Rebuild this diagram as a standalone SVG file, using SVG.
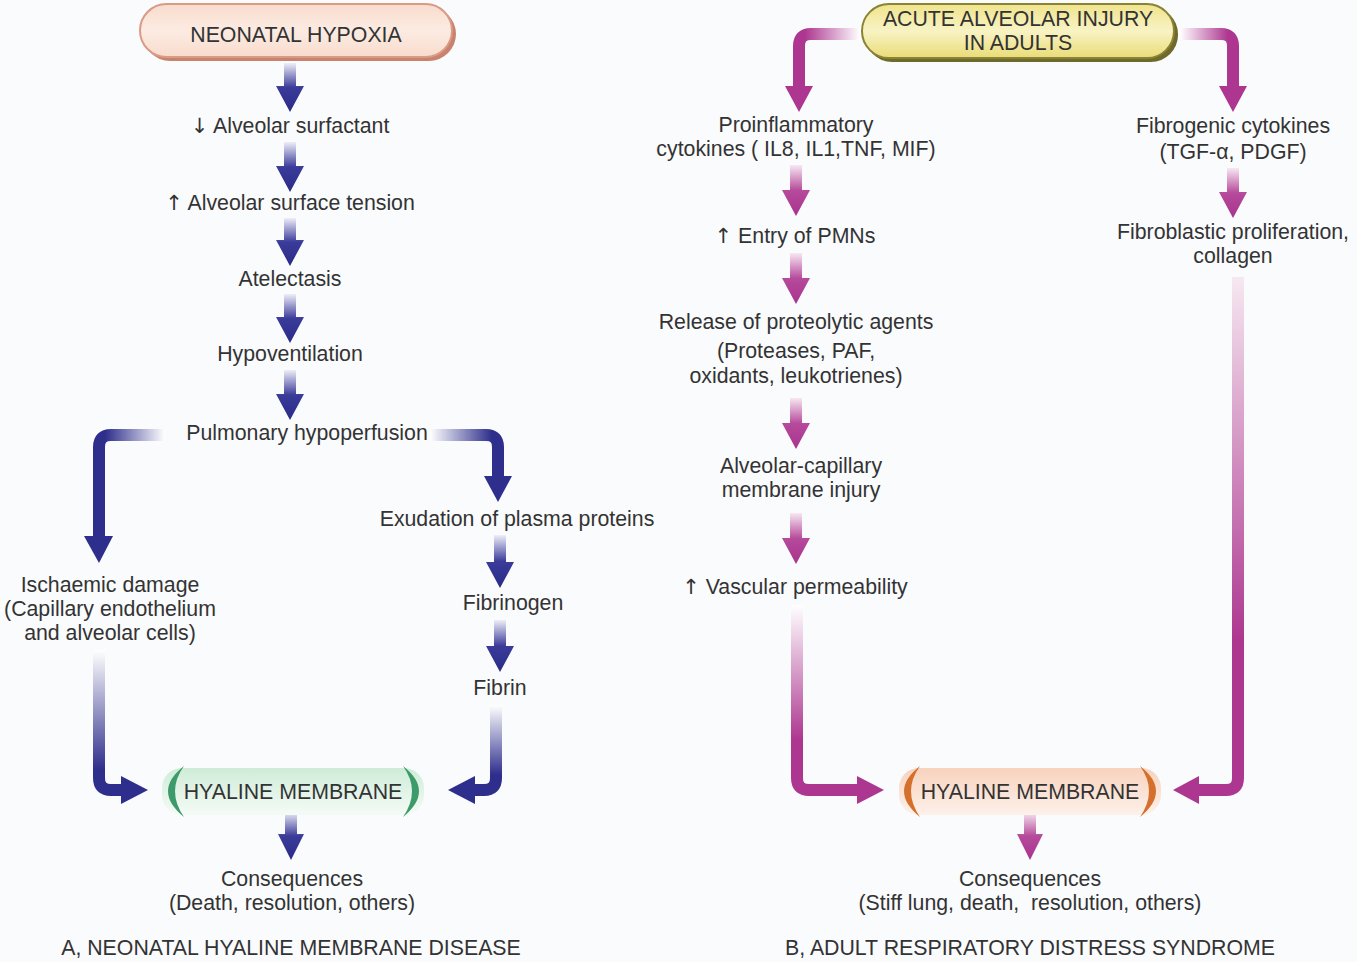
<svg xmlns="http://www.w3.org/2000/svg" width="1357" height="962" viewBox="0 0 1357 962">
<style>
text{font-family:"Liberation Sans",Arial,"DejaVu Sans",sans-serif;font-size:21.3px;fill:#333;text-anchor:middle}
.ar{font-family:"DejaVu Sans",sans-serif;font-size:21px}
.ab{fill:url(#gBD)}
.ap{fill:url(#gPD)}
.hb{fill:#2e2e8c}
.hp{fill:#ad3790}
.cn{fill:none;stroke-width:12}
</style>
<defs>
<linearGradient id="gBD" x1="0" y1="0" x2="0" y2="1">
<stop offset="0" stop-color="#eeeef8"/><stop offset="0.5" stop-color="#3b3b9a"/><stop offset="1" stop-color="#2a2a88"/>
</linearGradient>
<linearGradient id="gPD" x1="0" y1="0" x2="0" y2="1">
<stop offset="0" stop-color="#f7e8f2"/><stop offset="0.5" stop-color="#b64a9b"/><stop offset="1" stop-color="#a8338e"/>
</linearGradient>
<linearGradient id="gL1" gradientUnits="userSpaceOnUse" x1="165" y1="0" x2="105" y2="0">
<stop offset="0" stop-color="#ffffff"/><stop offset="1" stop-color="#2e2e8c"/>
</linearGradient>
<linearGradient id="gL2" gradientUnits="userSpaceOnUse" x1="430" y1="0" x2="492" y2="0">
<stop offset="0" stop-color="#ffffff"/><stop offset="1" stop-color="#2e2e8c"/>
</linearGradient>
<linearGradient id="gL3" gradientUnits="userSpaceOnUse" x1="0" y1="650" x2="0" y2="770">
<stop offset="0" stop-color="#ffffff"/><stop offset="1" stop-color="#2e2e8c"/>
</linearGradient>
<linearGradient id="gL4" gradientUnits="userSpaceOnUse" x1="0" y1="705" x2="0" y2="775">
<stop offset="0" stop-color="#ffffff"/><stop offset="1" stop-color="#2e2e8c"/>
</linearGradient>
<linearGradient id="gR1" gradientUnits="userSpaceOnUse" x1="860" y1="0" x2="805" y2="0">
<stop offset="0" stop-color="#ffffff"/><stop offset="1" stop-color="#ad3790"/>
</linearGradient>
<linearGradient id="gR2" gradientUnits="userSpaceOnUse" x1="1180" y1="0" x2="1228" y2="0">
<stop offset="0" stop-color="#ffffff"/><stop offset="1" stop-color="#ad3790"/>
</linearGradient>
<linearGradient id="gR3" gradientUnits="userSpaceOnUse" x1="0" y1="605" x2="0" y2="740">
<stop offset="0" stop-color="#ffffff"/><stop offset="1" stop-color="#ad3790"/>
</linearGradient>
<linearGradient id="gR4" gradientUnits="userSpaceOnUse" x1="0" y1="277" x2="0" y2="640">
<stop offset="0" stop-color="#f6e8f1"/><stop offset="1" stop-color="#ad3790"/>
</linearGradient>
<linearGradient id="gPeach" x1="0" y1="0" x2="0" y2="1">
<stop offset="0" stop-color="#f8dccd"/><stop offset="0.5" stop-color="#fcebe2"/><stop offset="1" stop-color="#f8dccd"/>
</linearGradient>
<linearGradient id="gYel" x1="0" y1="0" x2="0" y2="1">
<stop offset="0" stop-color="#efe48c"/><stop offset="0.5" stop-color="#f8f3c4"/><stop offset="1" stop-color="#eadc78"/>
</linearGradient>
<linearGradient id="gGreen" x1="0" y1="0" x2="0" y2="1">
<stop offset="0" stop-color="#cfecd8"/><stop offset="1" stop-color="#f4fbf6"/>
</linearGradient>
<linearGradient id="gOr" x1="0" y1="0" x2="0" y2="1">
<stop offset="0" stop-color="#f8d2bd"/><stop offset="1" stop-color="#fdf1ea"/>
</linearGradient>
</defs>
<rect width="1357" height="962" fill="#fafbfd"/>

<g id="connectors">
<path class="ab" d="M284 63H296V86H304L290 112L276 86H284Z"/>
<path class="ab" d="M284 142H296V166H304L290 192L276 166H284Z"/>
<path class="ab" d="M284 218H296V240H304L290 266L276 240H284Z"/>
<path class="ab" d="M284 294H296V317H304L290 343L276 317H284Z"/>
<path class="ab" d="M284 370H296V394H304L290 420L276 394H284Z"/>
<path class="ab" d="M494 535H506V562H514L500 588L486 562H494Z"/>
<path class="ab" d="M494 620H506V646H514L500 672L486 646H494Z"/>
<path class="ab" d="M285 812H297V834H304L291 860L278 834H285Z"/>
<path class="cn" stroke="url(#gL1)" d="M165 435H111Q99 435 99 447V538"/>
<path class="hb" d="M84 536H113L99 563Z"/>
<path class="cn" stroke="url(#gL2)" d="M430 435H486Q498 435 498 447V478"/>
<path class="hb" d="M484 476H512L498 502Z"/>
<path class="cn" stroke="url(#gL3)" d="M99 650V778Q99 790 111 790H124"/>
<path class="hb" d="M121 776V804L148 790Z"/>
<path class="cn" stroke="url(#gL4)" d="M496 705V778Q496 790 484 790H472"/>
<path class="hb" d="M475 776V804L448 790Z"/>
<path class="ap" d="M790 165H802V190H810L796 216L782 190H790Z"/>
<path class="ap" d="M790 253H802V278H810L796 304L782 278H790Z"/>
<path class="ap" d="M790 398H802V423H810L796 449L782 423H790Z"/>
<path class="ap" d="M790 513H802V538H810L796 564L782 538H790Z"/>
<path class="ap" d="M1227 168H1239V192H1247L1233 218L1219 192H1227Z"/>
<path class="ap" d="M1024 812H1036V834H1043L1030 860L1017 834H1024Z"/>
<path class="cn" stroke="url(#gR1)" d="M862 34H811Q799 34 799 46V88"/>
<path class="hp" d="M785 86H813L799 112Z"/>
<path class="cn" stroke="url(#gR2)" d="M1178 34H1221Q1233 34 1233 46V88"/>
<path class="hp" d="M1219 86H1247L1233 112Z"/>
<path class="cn" stroke="url(#gR3)" d="M797 605V778Q797 790 809 790H860"/>
<path class="hp" d="M857 776V804L884 790Z"/>
<path class="cn" stroke="url(#gR4)" d="M1238 277V778Q1238 790 1226 790H1197"/>
<path class="hp" d="M1199 776V804L1173 790Z"/>
</g>

<g id="n-neonatal-hypoxia">
<rect x="143" y="7" width="313" height="54" rx="27" fill="#c9826d"/>
<rect x="140" y="4" width="312" height="53" rx="26.5" fill="url(#gPeach)" stroke="#d99a86" stroke-width="2"/>
<text x="296" y="42">NEONATAL HYPOXIA</text>
</g>
<g id="n-alv-surfactant"><text x="290" y="133"><tspan class="ar">↓</tspan> Alveolar surfactant</text></g>
<g id="n-surface-tension"><text x="290" y="210"><tspan class="ar">↑</tspan> Alveolar surface tension</text></g>
<g id="n-atelectasis"><text x="290" y="286">Atelectasis</text></g>
<g id="n-hypoventilation"><text x="290" y="361">Hypoventilation</text></g>
<g id="n-hypoperfusion"><text x="307" y="440">Pulmonary hypoperfusion</text></g>
<g id="n-exudation"><text x="517" y="526">Exudation of plasma proteins</text></g>
<g id="n-fibrinogen"><text x="513" y="610">Fibrinogen</text></g>
<g id="n-fibrin"><text x="500" y="695">Fibrin</text></g>
<g id="n-ischaemic">
<text x="110" y="592">Ischaemic damage</text>
<text x="110" y="616">(Capillary endothelium</text>
<text x="110" y="640">and alveolar cells)</text>
</g>
<g id="n-hyaline-a">
<rect x="162" y="768" width="262" height="47" rx="20" fill="url(#gGreen)"/>
<path d="M184 766Q152 791 184 817Q166 791 184 766Z" fill="#3d9a6a"/>
<path d="M403 766Q435 791 403 817Q421 791 403 766Z" fill="#3d9a6a"/>
<text x="293" y="799">HYALINE MEMBRANE</text>
</g>
<g id="n-consequences-a">
<text x="292" y="886">Consequences</text>
<text x="292" y="910">(Death, resolution, others)</text>
</g>
<g id="caption-a"><text x="291" y="955">A, NEONATAL HYALINE MEMBRANE DISEASE</text></g>

<g id="n-acute-injury">
<rect x="865" y="7" width="313" height="55" rx="27" fill="#6e6a2c"/>
<rect x="862" y="4" width="312" height="54" rx="27" fill="url(#gYel)" stroke="#8a8335" stroke-width="2"/>
<text x="1018" y="26">ACUTE ALVEOLAR INJURY</text>
<text x="1018" y="50">IN ADULTS</text>
</g>
<g id="n-proinflammatory">
<text x="796" y="132">Proinflammatory</text>
<text x="796" y="156">cytokines ( IL8, IL1,TNF, MIF)</text>
</g>
<g id="n-pmn"><text x="795" y="243"><tspan class="ar">↑</tspan> Entry of PMNs</text></g>
<g id="n-proteolytic">
<text x="796" y="329">Release of proteolytic agents</text>
<text x="796" y="358">(Proteases, PAF,</text>
<text x="796" y="383">oxidants, leukotrienes)</text>
</g>
<g id="n-membrane-injury">
<text x="801" y="473">Alveolar-capillary</text>
<text x="801" y="497">membrane injury</text>
</g>
<g id="n-vascular"><text x="795" y="594"><tspan class="ar">↑</tspan> Vascular permeability</text></g>
<g id="n-fibrogenic">
<text x="1233" y="133">Fibrogenic cytokines</text>
<text x="1233" y="159">(TGF-α, PDGF)</text>
</g>
<g id="n-fibroblastic">
<text x="1233" y="239">Fibroblastic proliferation,</text>
<text x="1233" y="263">collagen</text>
</g>
<g id="n-hyaline-b">
<rect x="899" y="768" width="262" height="47" rx="20" fill="url(#gOr)"/>
<path d="M920 766Q888 791 920 817Q902 791 920 766Z" fill="#d4702c"/>
<path d="M1140 766Q1172 791 1140 817Q1158 791 1140 766Z" fill="#d4702c"/>
<text x="1030" y="799">HYALINE MEMBRANE</text>
</g>
<g id="n-consequences-b">
<text x="1030" y="886">Consequences</text>
<text x="1030" y="910" style="white-space:pre">(Stiff lung, death,  resolution, others)</text>
</g>
<g id="caption-b"><text x="1030" y="955">B, ADULT RESPIRATORY DISTRESS SYNDROME</text></g>
</svg>
